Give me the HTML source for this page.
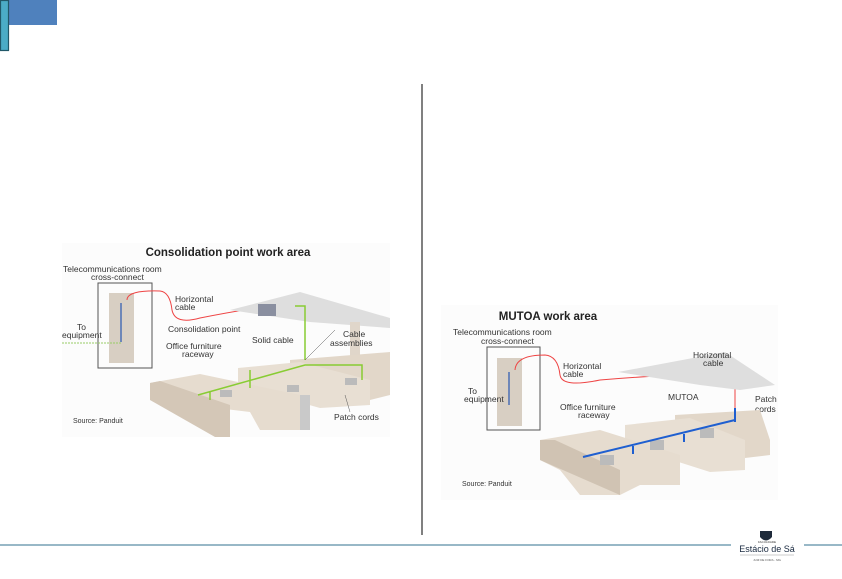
<!DOCTYPE html>
<html><head><meta charset="utf-8"><style>
body{margin:0;width:842px;height:579px;background:#fff;overflow:hidden;font-family:"Liberation Sans",sans-serif}
svg{position:absolute;left:0;top:0}
</style></head><body>
<svg width="842" height="579" viewBox="0 0 842 579" font-family="Liberation Sans, sans-serif">
<rect x="8" y="0" width="49" height="25" fill="#4f81bd"/>
<rect x="0.5" y="0.5" width="8" height="50" fill="#4bacc6" stroke="#215868" stroke-width="1.2"/>
<line x1="422" y1="84" x2="422" y2="535" stroke="#000" stroke-width="1"/>
<line x1="0" y1="545" x2="731" y2="545" stroke="#31708f" stroke-width="1"/>
<line x1="804" y1="545" x2="842" y2="545" stroke="#31708f" stroke-width="1"/>
<path d="M760 531 h12 v6 q-6 7 -12 0z" fill="#1e2a3a"/>
<text x="767" y="543" font-size="3" text-anchor="middle" fill="#333">FACULDADE</text>
<text x="767" y="552" font-size="9" text-anchor="middle" fill="#1a2a40">Estácio de Sá</text>
<line x1="740" y1="555" x2="794" y2="555" stroke="#999" stroke-width="0.5"/>
<text x="767" y="561" font-size="3" text-anchor="middle" fill="#555">JUIZ DE FORA - MG</text>

<!-- LEFT DIAGRAM -->
<g>
<rect x="62" y="243" width="328" height="194" fill="#fcfcfc"/>
<text x="228" y="256" font-size="11.5" font-weight="bold" text-anchor="middle" fill="#222">Consolidation point work area</text>
<text x="63" y="272" font-size="8.5" fill="#333">Telecommunications room</text>
<text x="91" y="280" font-size="8.5" fill="#333">cross-connect</text>
<rect x="98" y="283" width="54" height="85" fill="none" stroke="#555"/>
<rect x="109" y="293" width="25" height="70" fill="#d8cfc3"/>
<line x1="121" y1="303" x2="121" y2="342" stroke="#4a6fb5" stroke-width="1.5"/>
<line x1="62" y1="343" x2="121" y2="343" stroke="#9c6" stroke-dasharray="2 1"/>
<text x="77" y="330" font-size="8.5" fill="#333">To</text>
<text x="62" y="338" font-size="8.5" fill="#333">equipment</text>
<path d="M127 300 Q127 290 160 291 Q170 292 172 310 Q175 325 200 318 Q230 312 262 307" fill="none" stroke="#e44" stroke-width="1"/>
<text x="175" y="302" font-size="8.5" fill="#333">Horizontal</text>
<text x="175" y="310" font-size="8.5" fill="#333">cable</text>
<polygon points="230,310 300,292 390,318 390,328 310,322" fill="#dedede"/>
<rect x="258" y="304" width="18" height="12" fill="#8a8fa0"/>
<rect x="350" y="322" width="10" height="45" fill="#e0d6ca"/>
<text x="168" y="332" font-size="8.5" fill="#333">Consolidation point</text>
<text x="252" y="343" font-size="8.5" fill="#333">Solid cable</text>
<text x="343" y="337" font-size="8.5" fill="#333">Cable</text>
<text x="330" y="346" font-size="8.5" fill="#333">assemblies</text>
<text x="166" y="349" font-size="8.5" fill="#333">Office furniture</text>
<text x="182" y="357" font-size="8.5" fill="#333">raceway</text>
<!-- desks -->
<polygon points="290,360 390,352 390,395 370,400 370,385 290,378" fill="#e2d7c9"/>
<polygon points="238,368 300,362 370,380 370,405 320,408 238,385" fill="#e8dfd3"/>
<polygon points="150,383 200,374 300,395 300,430 260,430 250,412 150,400" fill="#e6dccf"/>
<polygon points="150,383 160,381 230,405 230,437 215,437 150,400" fill="#d4c7b7"/>
<polygon points="300,395 310,395 310,430 300,430" fill="#c9c9c9"/>
<path d="M295 306 L305 306 L305 360 M198 395 L305 365 L362 365 L362 380 M250 370 L250 388 M210 392 L210 400" fill="none" stroke="#8c3" stroke-width="1.5"/>
<line x1="305" y1="360" x2="335" y2="330" stroke="#555" stroke-width="0.5"/>
<line x1="345" y1="395" x2="350" y2="412" stroke="#555" stroke-width="0.5"/>
<rect x="220" y="390" width="12" height="7" fill="#bbb"/>
<rect x="287" y="385" width="12" height="7" fill="#bbb"/>
<rect x="345" y="378" width="12" height="7" fill="#bbb"/>
<text x="73" y="423" font-size="7" fill="#333">Source: Panduit</text>
<text x="334" y="420" font-size="8.5" fill="#333">Patch cords</text>
</g>

<!-- RIGHT DIAGRAM -->
<g>
<rect x="441" y="305" width="337" height="195" fill="#fcfcfc"/>
<text x="548" y="320" font-size="11.5" font-weight="bold" text-anchor="middle" fill="#222">MUTOA work area</text>
<text x="453" y="335" font-size="8.5" fill="#333">Telecommunications room</text>
<text x="481" y="344" font-size="8.5" fill="#333">cross-connect</text>
<rect x="487" y="347" width="53" height="83" fill="none" stroke="#555"/>
<rect x="497" y="358" width="25" height="68" fill="#d8cfc3"/>
<line x1="509" y1="372" x2="509" y2="405" stroke="#4a6fb5" stroke-width="1.5"/>
<text x="468" y="394" font-size="8.5" fill="#333">To</text>
<text x="464" y="402" font-size="8.5" fill="#333">equipment</text>
<path d="M515 370 Q516 355 545 355 Q558 356 560 375 Q562 388 600 380 Q660 375 735 372 L735 410" fill="none" stroke="#e44" stroke-width="1"/>
<polygon points="618,372 725,352 775,385 740,390 700,385" fill="#dedede"/>
<text x="563" y="369" font-size="8.5" fill="#333">Horizontal</text>
<text x="563" y="377" font-size="8.5" fill="#333">cable</text>
<text x="693" y="358" font-size="8.5" fill="#333">Horizontal</text>
<text x="703" y="366" font-size="8.5" fill="#333">cable</text>
<text x="668" y="400" font-size="8.5" fill="#333">MUTOA</text>
<text x="755" y="402" font-size="8.5" fill="#333">Patch</text>
<text x="755" y="412" font-size="8.5" fill="#333">cords</text>
<text x="560" y="410" font-size="8.5" fill="#333">Office furniture</text>
<text x="578" y="418" font-size="8.5" fill="#333">raceway</text>
<polygon points="675,415 760,410 770,440 770,455 745,458 740,440 675,425" fill="#e2d7c9"/>
<polygon points="625,425 690,418 745,440 745,470 710,472 625,445" fill="#e8dfd3"/>
<polygon points="540,440 600,430 680,455 680,485 640,485 620,495 580,495 560,470 540,460" fill="#e6dccf"/>
<polygon points="540,440 555,440 620,470 620,495 540,460" fill="#d0c3b3"/>
<rect x="600" y="455" width="14" height="10" fill="#bbb"/>
<rect x="650" y="440" width="14" height="10" fill="#bbb"/>
<rect x="700" y="428" width="14" height="10" fill="#bbb"/>
<line x1="583" y1="457" x2="735" y2="420" stroke="#1f5fd0" stroke-width="2"/>
<line x1="735" y1="408" x2="735" y2="422" stroke="#1f5fd0" stroke-width="2"/>
<path d="M633 446 v8 M684 434 v8" stroke="#1f5fd0" stroke-width="2"/>
<text x="462" y="486" font-size="7" fill="#333">Source: Panduit</text>
</g>
</svg>
</body></html>
